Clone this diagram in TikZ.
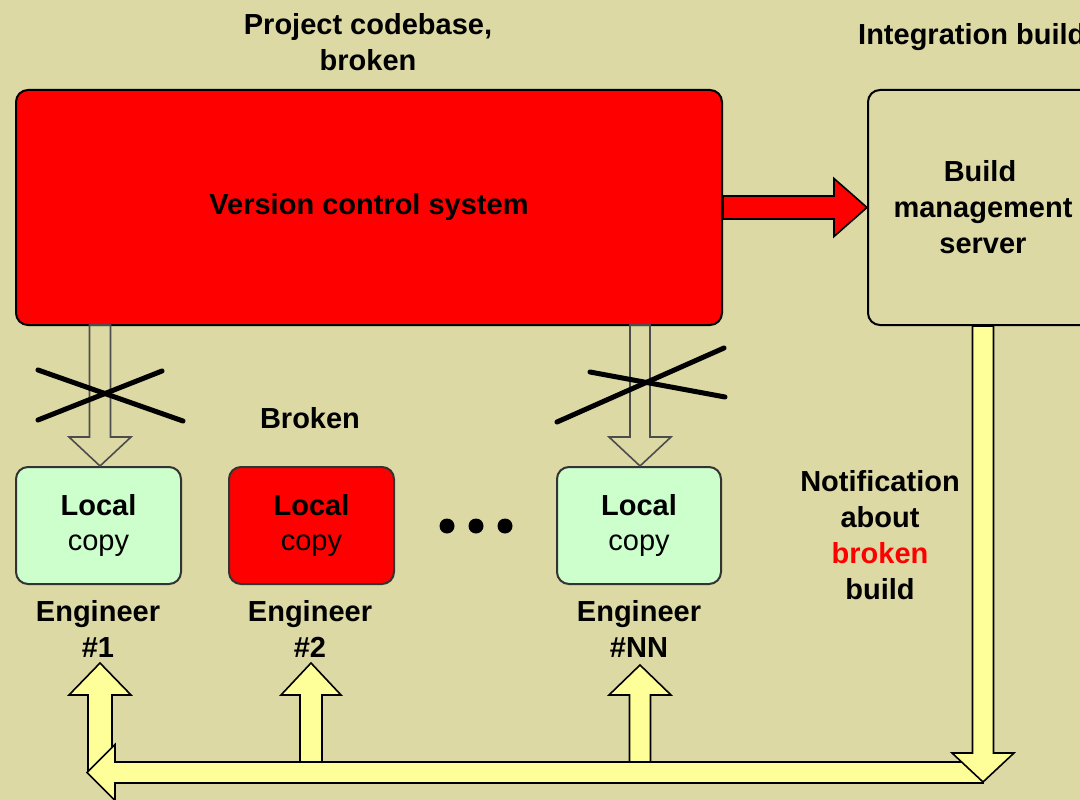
\documentclass[tikz,border=0pt]{standalone}
\usepackage{fontspec}
\setmainfont{Liberation Sans}
\usetikzlibrary{calc}
\definecolor{bgkhaki}{RGB}{220,217,164}
\definecolor{boxgreen}{RGB}{204,255,204}
\definecolor{arrowyellow}{RGB}{255,255,153}
\definecolor{vcsred}{RGB}{255,0,0}
\newcommand{\blockv}[6]{\draw[#1] let \p1=(#2), \p2=(#3) in (\x1-#4,\y1) -- (\x1-#4,\y2#6) -- (\x1-#5,\y2#6) -- (\x1,\y2) -- (\x1+#5,\y2#6) -- (\x1+#4,\y2#6) -- (\x1+#4,\y1) -- cycle;}
\newcommand{\blockh}[6]{\draw[#1] let \p1=(#2), \p2=(#3) in (\x1,\y1-#4) -- (\x2#6,\y1-#4) -- (\x2#6,\y1-#5) -- (\x2,\y1) -- (\x2#6,\y1+#5) -- (\x2#6,\y1+#4) -- (\x1,\y1+#4) -- cycle;}
\begin{document}
\begin{tikzpicture}[x=1pt,y=-1pt,
  every node/.style={font=\fontsize{29}{36}\selectfont\bfseries, align=center, inner sep=0pt},
  bigbox/.style={draw=black, line width=2pt, rounded corners=12pt},
  localbox/.style={draw=black!80, line width=2pt, rounded corners=12pt, fill=boxgreen, minimum width=165pt, minimum height=117pt},
  yarrow/.style={fill=arrowyellow, draw=black, line width=1.6pt, line join=miter},
  harrow/.style={draw=black!70, line width=1.6pt, line join=miter},
  rarrow/.style={fill=vcsred, draw=black, line width=1.6pt, line join=miter},
  crossline/.style={draw=black, line width=5pt, line cap=round}
]
\useasboundingbox (0,0) rectangle (1080,800);
\fill[bgkhaki] (0,0) rectangle (1080,800);

% titles
\node (ttl) at (368,42) {Project codebase,\\broken};
\node[anchor=base west] (itl) at (858,45) {Integration build};

% main boxes
\node[bigbox, fill=vcsred, minimum width=706pt, minimum height=235pt] (vcs) at (369,207.5) {Version control system};
\node[bigbox, fill=bgkhaki, minimum width=230pt, minimum height=235pt, text width=200pt] (bms) at (983,207.5) {\hspace*{-6pt}Build\\management\\server};

% local copies
\node[localbox] (loc1) at (98.5,525.5) {Local\\[-1pt]{\mdseries copy}};
\node[localbox, fill=vcsred] (loc2) at (311.5,525.5) {Local\\[-1pt]{\mdseries copy}};
\node[localbox, minimum width=164pt] (locn) at (639,525.5) {Local\\[-1pt]{\mdseries copy}};

% engineer labels
\node (eng1) at (98,629) {Engineer\\\#1};
\node (eng2) at (310,629) {Engineer\\\#2};
\node (engn) at (639,629) {Engineer\\\#NN};

\node (brk) at (310,418) {Broken};
\node (notif) at (880,535) {Notification\\about\\\textcolor{vcsred}{broken}\\build};

% dots
\fill (447,526) circle (7.5pt);
\fill (476,526) circle (7.5pt);
\fill (505,526) circle (7.5pt);

% red arrow vcs -> bms
\blockh{rarrow}{vcs.east}{bms.west}{11.5pt}{29pt}{-33pt}

% hollow arrows vcs -> local copies
\coordinate (h1s) at (100,325);
\coordinate (h1t) at (100,466);
\coordinate (hns) at (640,325);
\coordinate (hnt) at (640,466);
\blockv{harrow}{h1s}{h1t}{10.5pt}{31pt}{+29pt}
\blockv{harrow}{hns}{hnt}{10pt}{31pt}{+29pt}

% crosses
\draw[crossline] (38,370) -- (183,421);
\draw[crossline] (38,420) -- (162,371);
\draw[crossline] (590,372) -- (725,397);
\draw[crossline] (557,422) -- (724,348);

% yellow notification arrows
\coordinate (d1) at (983,326);
\coordinate (d2) at (983,782);
\coordinate (hstart) at (983,772.5);
\coordinate (hend) at (87,772.5);
\coordinate (u1s) at (100,772);
\coordinate (u1t) at (100,663);
\coordinate (u2s) at (311,762);
\coordinate (u2t) at (311,663);
\coordinate (uns) at (640,762);
\coordinate (unt) at (640,665);
\blockv{yarrow}{u1s}{u1t}{12pt}{31pt}{-32pt}
\blockv{yarrow}{u2s}{u2t}{11pt}{30pt}{-32pt}
\blockv{yarrow}{uns}{unt}{10.5pt}{31pt}{-30pt}
\blockh{yarrow}{hstart}{hend}{10.5pt}{28pt}{+28pt}
\blockv{yarrow}{d1}{d2}{10.5pt}{31pt}{+29pt}
\end{tikzpicture}
\end{document}
